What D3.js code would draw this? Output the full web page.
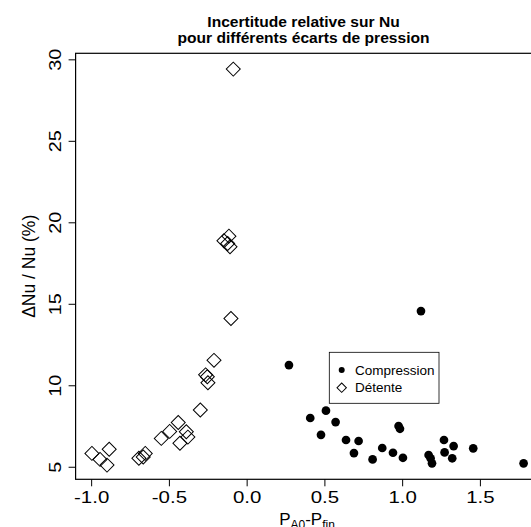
<!DOCTYPE html>
<html><head><meta charset="utf-8">
<script src="https://cdn.jsdelivr.net/npm/d3@7"></script>
<style>body{margin:0;background:#fff}svg{display:block}text{font-family:"Liberation Sans",Arial,Helvetica,sans-serif}</style>
</head><body>
<script>
const titleLines = ["Incertitude relative sur Nu", "pour différents écarts de pression"];
const xTicks = [-1.0, -0.5, 0.0, 0.5, 1.0, 1.5];
const yTicks = [5, 10, 15, 20, 25, 30];
const seriesNames = ["Compression", "Détente"];
const compressionX = [1.121,0.272,0.51,0.409,0.572,0.478,0.977,0.986,0.639,0.72,0.69,0.81,0.872,0.941,1.005,1.17,1.183,1.192,1.269,1.331,1.273,1.322,1.457,1.781];
const compressionY = [14.55,11.24,8.44,7.99,7.74,6.96,7.5,7.33,6.64,6.58,5.84,5.45,6.15,5.86,5.55,5.72,5.52,5.21,6.64,6.27,5.88,5.52,6.13,5.21];
const detenteX = [-0.086,-0.114,-0.146,-0.107,-0.122,-0.101,-0.21,-0.264,-0.253,-0.249,-0.298,-0.44,-0.495,-0.549,-0.388,-0.378,-0.429,-0.693,-0.665,-0.652,-0.884,-0.995,-0.943,-0.898];
const detenteY = [29.4,19.15,18.87,18.5,18.7,14.1,11.53,10.64,10.52,10.15,8.48,7.72,7.17,6.74,7.15,6.82,6.44,5.52,5.6,5.82,6.07,5.82,5.45,5.1];

const W = 531, H = 527;
const svg = d3.select("body").append("svg").attr("width", W).attr("height", H);
const x = d3.scaleLinear().domain([-1.1, 1.9]).range([75.6, 542.1]);
const y = d3.scaleLinear().domain([4.23, 30.37]).range([479.3, 53.3]);
const L = 75.6, T = 53.3, B = 479.3, R = 532;
const fontFam = '"Liberation Sans",Arial,Helvetica,sans-serif';

// box
svg.append("rect").attr("x", L).attr("y", T).attr("width", R - L).attr("height", B - T)
  .attr("fill", "none").attr("stroke", "#000").attr("stroke-width", 1.2);

// title
titleLines.forEach((t, i) => {
  svg.append("text").attr("transform", `translate(303.5,${26.7 + i * 16}) scale(1.115,1)`).attr("text-anchor", "middle")
    .attr("font-size", 14).attr("font-weight", "bold").text(t);
});

// x axis
const xAxis = d3.axisBottom(x).tickValues(xTicks).tickFormat(d3.format(".1f")).tickSize(7).tickPadding(5);
const gx = svg.append("g").attr("transform", `translate(0,${B})`).call(xAxis);
gx.select(".domain").remove();
gx.selectAll("line").attr("stroke", "#000");
gx.selectAll("text").attr("font-size", 16.5).attr("fill", "#000").attr("font-family", fontFam)
  .text(d => d3.format(".1f")(d).replace("−", "-"))
  .attr("y", null).attr("dy", null)
  .attr("transform", `translate(0,${503.3 - B}) scale(1.24,1)`);

// y axis
const yAxis = d3.axisLeft(y).tickValues(yTicks).tickSize(7).tickPadding(0);
const gy = svg.append("g").attr("transform", `translate(${L},0)`).call(yAxis);
gy.select(".domain").remove();
gy.selectAll("line").attr("stroke", "#000");
gy.selectAll("text").attr("font-size", 16.5).attr("fill", "#000").attr("font-family", fontFam)
  .attr("text-anchor", "middle").attr("dy", null).attr("x", null)
  .attr("transform", `translate(${60.5 - L},0) rotate(-90) scale(1.2,1)`);

// axis labels
svg.append("text").attr("transform", `translate(34.5,${(T + B) / 2}) rotate(-90)`).attr("text-anchor", "middle")
  .attr("font-size", 17.5).text("ΔNu / Nu (%)");
const xl = svg.append("text").attr("x", 307).attr("y", 525).attr("text-anchor", "middle").attr("font-size", 17);
xl.append("tspan").text("P");
xl.append("tspan").attr("font-size", 12).attr("dy", 4).text("A0");
xl.append("tspan").attr("dy", -4).text("-P");
xl.append("tspan").attr("font-size", 12).attr("dy", 4).text("fin");

// points
const diamond = d3.symbol().type(d3.symbolSquare).size(98);
svg.append("g").selectAll("path").data(d3.range(detenteX.length)).join("path")
  .attr("d", diamond)
  .attr("transform", i => `translate(${x(detenteX[i])},${y(detenteY[i])}) rotate(45)`)
  .attr("fill", "none").attr("stroke", "#000").attr("stroke-width", 1);
svg.append("g").selectAll("circle").data(d3.range(compressionX.length)).join("circle")
  .attr("cx", i => x(compressionX[i])).attr("cy", i => y(compressionY[i])).attr("r", 4.35).attr("fill", "#000");

// legend
const lg = svg.append("g");
lg.append("rect").attr("x", 329.3).attr("y", 352.3).attr("width", 109.7).attr("height", 51)
  .attr("fill", "#fff").attr("stroke", "#000").attr("stroke-width", 0.8);
lg.append("circle").attr("cx", 341.7).attr("cy", 370).attr("r", 3).attr("fill", "#000");
lg.append("path").attr("d", d3.symbol().type(d3.symbolSquare).size(44)())
  .attr("transform", "translate(341.7,387.7) rotate(45)").attr("fill", "none").attr("stroke", "#000");
seriesNames.forEach((s, i) => {
  lg.append("text").attr("x", 355).attr("y", 374.5 + i * 17.7).attr("font-size", 13.5).text(s);
});
</script>
</body></html>
